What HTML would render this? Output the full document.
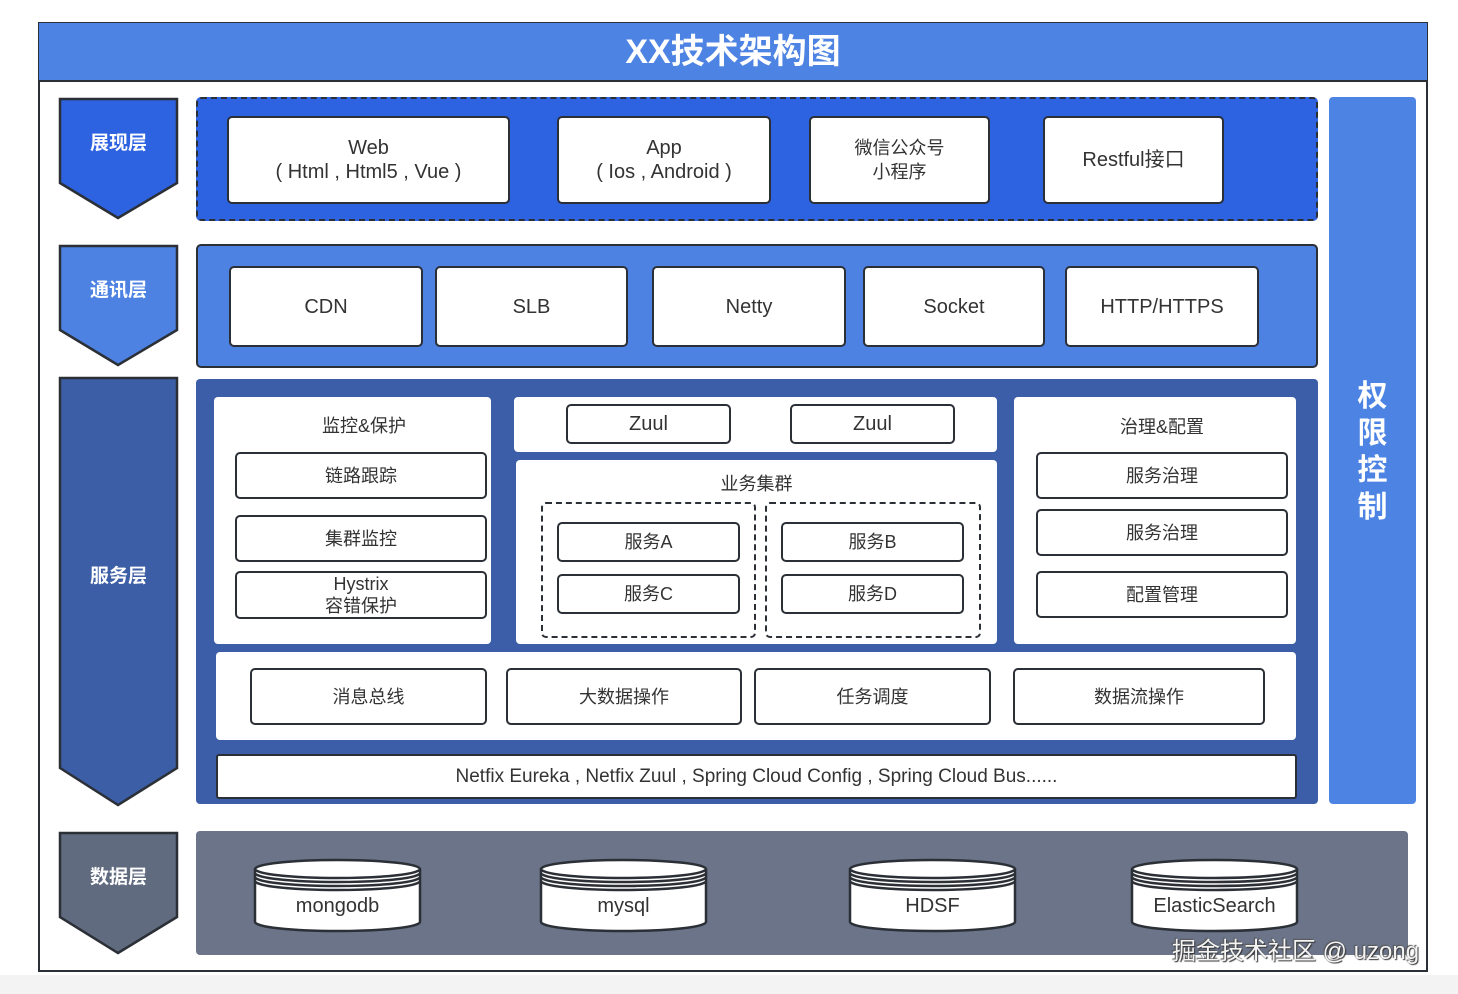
<!DOCTYPE html>
<html><head><meta charset="utf-8"><style>
*{margin:0;padding:0;box-sizing:border-box}
body{width:1458px;height:994px;background:#f3f3f3;position:relative;overflow:hidden;font-family:"Liberation Sans","Noto Sans CJK SC",sans-serif;color:#333}
.a{position:absolute}
.b{position:absolute;background:#fff;border:2.5px solid #2b2f36;border-radius:5px;display:flex;align-items:center;justify-content:center;text-align:center;font-size:20px;line-height:24px;color:#333}
.p{position:absolute;background:#fff;border-radius:4px}
.t{position:absolute;font-size:19px;color:#333;text-align:center}
.d{position:absolute;border:2.5px dashed #2b2f36;border-radius:5px}
.lbl{position:absolute;color:#fff;font-size:19px;font-weight:bold;width:117px;text-align:center}
</style></head><body>
<div class="a" style="left:0;top:0;width:1458px;height:975px;background:#fff"></div>
<div class="a" style="left:38px;top:22px;width:1390px;height:950px;border:2px solid #2b2f36;background:#fff"></div>
<div class="a" style="left:39px;top:23px;width:1388px;height:59px;background:#4d83e3;border-bottom:2px solid #2b2f36;color:#fff;font-size:34px;font-weight:bold;text-align:center;line-height:58px">XX技术架构图</div>

<svg class="a" style="left:0;top:0" width="1458" height="994">
<polygon points="60,99 177,99 177,183 118,218 60,183" fill="#2d62e0" stroke="#2b2f36" stroke-width="2.5"/>
<polygon points="60,246 177,246 177,330 118,365 60,330" fill="#4d82e3" stroke="#2b2f36" stroke-width="2.5"/>
<polygon points="60,378 177,378 177,768 118,805 60,768" fill="#3c5ea6" stroke="#2b2f36" stroke-width="2.5"/>
<polygon points="60,833 177,833 177,917 118,953 60,917" fill="#606b80" stroke="#2b2f36" stroke-width="2.5"/>
</svg>
<div class="lbl" style="left:60px;top:128px">展现层</div>
<div class="lbl" style="left:60px;top:275px">通讯层</div>
<div class="lbl" style="left:60px;top:561px">服务层</div>
<div class="lbl" style="left:60px;top:862px">数据层</div>

<!-- presentation -->
<div class="a" style="left:196px;top:97px;width:1122px;height:124px;background:#2d62e0;border:2.5px dashed #2b2f36;border-radius:5px"></div>
<div class="b" style="left:227px;top:116px;width:283px;height:88px">Web<br>( Html , Html5 , Vue )</div>
<div class="b" style="left:557px;top:116px;width:214px;height:88px">App<br>( Ios , Android )</div>
<div class="b" style="left:809px;top:116px;width:181px;height:88px;font-size:18px">微信公众号<br>小程序</div>
<div class="b" style="left:1043px;top:116px;width:181px;height:88px">Restful接口</div>

<!-- comm -->
<div class="a" style="left:196px;top:244px;width:1122px;height:124px;background:#4d82e3;border:2.5px solid #2b2f36;border-radius:5px"></div>
<div class="b" style="left:229px;top:266px;width:194px;height:81px">CDN</div>
<div class="b" style="left:435px;top:266px;width:193px;height:81px">SLB</div>
<div class="b" style="left:652px;top:266px;width:194px;height:81px">Netty</div>
<div class="b" style="left:863px;top:266px;width:182px;height:81px">Socket</div>
<div class="b" style="left:1065px;top:266px;width:194px;height:81px">HTTP/HTTPS</div>

<!-- service -->
<div class="a" style="left:196px;top:379px;width:1122px;height:425px;background:#3c5ea8;border-radius:4px"></div>
<div class="p" style="left:214px;top:397px;width:277px;height:247px"></div>
<div class="t" style="left:214px;top:412px;width:300px;font-size:18px">监控&amp;保护</div>
<div class="b" style="left:235px;top:452px;width:252px;height:47px;font-size:18px">链路跟踪</div>
<div class="b" style="left:235px;top:515px;width:252px;height:47px;font-size:18px">集群监控</div>
<div class="b" style="left:235px;top:571px;width:252px;height:48px;font-size:18px;line-height:22px">Hystrix<br>容错保护</div>

<div class="p" style="left:514px;top:397px;width:483px;height:55px"></div>
<div class="b" style="left:566px;top:404px;width:165px;height:40px">Zuul</div>
<div class="b" style="left:790px;top:404px;width:165px;height:40px">Zuul</div>

<div class="p" style="left:516px;top:460px;width:481px;height:184px"></div>
<div class="t" style="left:516px;top:470px;width:481px;font-size:18px">业务集群</div>
<div class="d" style="left:541px;top:502px;width:215px;height:136px"></div>
<div class="d" style="left:765px;top:502px;width:216px;height:136px"></div>
<div class="b" style="left:557px;top:522px;width:183px;height:40px;font-size:18px">服务A</div>
<div class="b" style="left:557px;top:574px;width:183px;height:40px;font-size:18px">服务C</div>
<div class="b" style="left:781px;top:522px;width:183px;height:40px;font-size:18px">服务B</div>
<div class="b" style="left:781px;top:574px;width:183px;height:40px;font-size:18px">服务D</div>

<div class="p" style="left:1014px;top:397px;width:282px;height:247px"></div>
<div class="t" style="left:1014px;top:413px;width:296px;font-size:18px">治理&amp;配置</div>
<div class="b" style="left:1036px;top:452px;width:252px;height:47px;font-size:18px">服务治理</div>
<div class="b" style="left:1036px;top:509px;width:252px;height:47px;font-size:18px">服务治理</div>
<div class="b" style="left:1036px;top:571px;width:252px;height:47px;font-size:18px">配置管理</div>

<div class="p" style="left:216px;top:652px;width:1080px;height:88px"></div>
<div class="b" style="left:250px;top:668px;width:237px;height:57px;font-size:18px">消息总线</div>
<div class="b" style="left:506px;top:668px;width:236px;height:57px;font-size:18px">大数据操作</div>
<div class="b" style="left:754px;top:668px;width:237px;height:57px;font-size:18px">任务调度</div>
<div class="b" style="left:1013px;top:668px;width:252px;height:57px;font-size:18px">数据流操作</div>
<div class="b" style="left:216px;top:754px;width:1081px;height:45px;font-size:19px;border-radius:3px">Netfix Eureka , Netfix Zuul , Spring Cloud Config , Spring Cloud Bus......</div>

<!-- right -->
<div class="a" style="left:1329px;top:97px;width:87px;height:707px;background:#4d84e3;border-radius:4px"></div>
<div class="a" style="left:1329px;top:378px;width:87px;text-align:center;color:#fff;font-size:30px;font-weight:bold;line-height:37px">权<br>限<br>控<br>制</div>

<!-- data -->
<div class="a" style="left:196px;top:831px;width:1212px;height:124px;background:#6b7489;border-radius:4px"></div>
<svg class="a" style="left:0;top:0" width="1458" height="994">
<defs>
<g id="cyl"><path d="M0,9 L0,62 A82.5,9 0 0 0 165,62 L165,9" fill="#fff"/><ellipse cx="82.5" cy="9" rx="82.5" ry="9" fill="#fff"/><path d="M0,13 A82.5,9 0 0 0 165,13 M0,17 A82.5,9 0 0 0 165,17 M0,21 A82.5,9 0 0 0 165,21" fill="none"/></g>
</defs>
<g stroke="#2b2f36" stroke-width="2.5">
<use href="#cyl" x="255" y="860"/>
<use href="#cyl" x="541" y="860"/>
<use href="#cyl" x="850" y="860"/>
<use href="#cyl" x="1132" y="860"/>
</g>
</svg>
<div class="t" style="left:255px;top:895px;width:165px;font-size:20px">mongodb</div>
<div class="t" style="left:541px;top:895px;width:165px;font-size:20px">mysql</div>
<div class="t" style="left:850px;top:895px;width:165px;font-size:20px">HDSF</div>
<div class="t" style="left:1132px;top:895px;width:165px;font-size:20px">ElasticSearch</div>

<div class="a" style="left:1172px;top:931px;font-size:24px;color:#f4f4f4;text-shadow:1px 1px 1px #333,-1px -1px 1px #555">掘金技术社区 @ uzong</div>
</body></html>
